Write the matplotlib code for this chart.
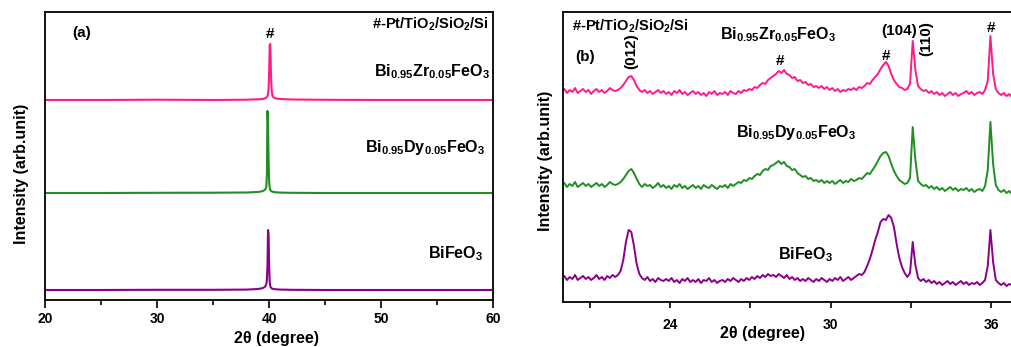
import numpy as np
import matplotlib
matplotlib.use("Agg")
import matplotlib.pyplot as plt

plt.rcParams['font.family'] = ['Liberation Sans', 'DejaVu Sans']
plt.rcParams['font.weight'] = 'bold'
plt.rcParams['mathtext.fontset'] = 'custom'
plt.rcParams['mathtext.rm'] = 'Liberation Sans:bold'
plt.rcParams['mathtext.it'] = 'Liberation Sans:bold'
plt.rcParams['mathtext.bf'] = 'Liberation Sans:bold'

# ---------------- Panel (a) data ----------------
two_theta_a = [20, 25, 30, 35, 38, 39, 39.4, 39.6, 39.7, 39.75, 39.8, 39.85, 39.9,
               39.95, 40.0, 40.05, 40.1, 40.15, 40.2, 40.25, 40.3, 40.4, 40.6, 41,
               42, 45, 50, 55, 60]
bzfo_a = [200, 200, 200.3, 200, 200.3, 200.7, 201, 201.5, 202, 202.5, 203, 204, 206,
          212, 228, 255, 256, 232, 214, 207, 204, 202.5, 201.5, 201, 200.5, 200.2,
          200, 200, 200]
bdfo_a = [107, 107, 107.2, 107.3, 107.5, 108, 108.8, 110, 111.5, 114, 125, 189, 178,
          140, 118, 112, 110, 109.3, 108.8, 108.5, 108.3, 108, 107.7, 107.4, 107.2,
          107, 107, 107, 107]
bfo_a = [10, 10, 10.2, 10.2, 10.4, 11, 11.8, 13, 14.5, 16, 20, 35, 70, 66, 34, 18, 14,
         12.5, 12, 11.5, 11.2, 11, 10.7, 10.4, 10.2, 10, 10, 10, 10]

# ---------------- Panel (b) data ----------------
two_theta_b_start = 19.96
two_theta_b_step = 0.1
bzfo_b = [
    211, 213, 209, 212, 210, 214, 209, 211, 213, 210,
    212, 208, 211, 213, 210, 212, 209, 211, 214, 212,
    211, 212, 214, 217, 221, 225, 226, 222, 216, 212,
    210, 212, 209, 211, 208, 210, 212, 209, 211, 208,
    210, 207, 211, 209, 212, 208, 210, 207, 209, 211,
    208, 210, 207, 209, 206, 210, 208, 211, 207, 209,
    208, 210, 207, 211, 209, 208, 211, 209, 212, 211,
    213, 212, 215, 214, 217, 219, 218, 222, 224, 226,
    228, 231, 229, 232, 228, 227, 224, 225, 221, 222,
    219, 220, 217, 218, 215, 216, 214, 216, 213, 215,
    212, 214, 211, 213, 210, 212, 211, 213, 212, 214,
    212, 215, 214, 216, 219, 218, 222, 225, 228, 233,
    237, 240, 236, 228, 222, 218, 215, 214, 212, 213,
    218, 261, 232, 216, 213, 211, 212, 209, 211, 208,
    210, 207, 209, 206, 208, 210, 207, 209, 206, 208,
    209, 211, 208, 210, 207, 209, 210, 208, 212, 221,
    266, 228, 213, 209, 207, 209, 206, 208, 205, 207,
    206, 208]
bdfo_b = [
    117, 119, 115, 118, 116, 120, 115, 117, 119, 116,
    118, 115, 117, 119, 116, 118, 115, 117, 120, 118,
    117, 118, 120, 123, 127, 131, 133, 129, 123, 118,
    115, 118, 116, 117, 114, 116, 119, 115, 117, 114,
    116, 113, 117, 115, 118, 114, 116, 113, 115, 117,
    114, 116, 113, 117, 115, 114, 117, 115, 113, 116,
    115, 117, 114, 118, 116, 118, 120, 119, 122, 121,
    124, 123, 126, 128, 127, 131, 133, 132, 136, 137,
    139, 141, 138, 140, 136, 135, 132, 133, 129, 127,
    125, 126, 123, 124, 121, 122, 120, 122, 119, 121,
    119, 121, 118, 120, 122, 119, 121, 120, 123, 121,
    122, 124, 123, 126, 129, 128, 132, 136, 141, 146,
    149, 150, 146, 138, 131, 126, 122, 120, 118, 119,
    124, 175, 142, 121, 118, 116, 117, 114, 116, 113,
    115, 112, 114, 111, 113, 115, 112, 114, 111, 113,
    112, 114, 111, 113, 110, 112, 113, 111, 116, 132,
    180, 138, 117, 112, 110, 112, 109, 111, 108, 110,
    109, 111]
bfo_b = [
    24, 26, 22, 25, 23, 27, 22, 24, 26, 23,
    25, 22, 24, 27, 23, 25, 22, 26, 24, 27,
    25, 27, 31, 42, 60, 72, 70, 56, 38, 28,
    24, 22, 25, 21, 23, 20, 24, 22, 21, 23,
    21, 24, 20, 22, 19, 23, 21, 24, 20, 22,
    20, 23, 19, 22, 21, 24, 20, 22, 19, 21,
    22, 20, 23, 21, 24, 22, 20, 23, 21, 24,
    22, 25, 23, 26, 24, 27, 25, 28, 26, 27,
    25, 28, 26, 24, 27, 23, 25, 22, 24, 21,
    23, 21, 24, 22, 20, 23, 21, 24, 22, 20,
    23, 21, 24, 22, 25, 21, 23, 25, 22, 24,
    26, 28, 27, 30, 36, 43, 52, 62, 70, 80,
    83, 82, 87, 84, 75, 58, 44, 35, 29, 25,
    29, 60, 37, 24, 21, 23, 20, 22, 19, 21,
    18, 20, 17, 19, 21, 18, 20, 17, 19, 21,
    18, 20, 17, 19, 18, 20, 17, 19, 22, 36,
    72, 40, 22, 19, 17, 19, 16, 18, 17, 19,
    16, 18]
two_theta_b = np.round(two_theta_b_start + two_theta_b_step * np.arange(len(bfo_b)), 2)

ticks_a = [20, 30, 40, 50, 60]
ticks_b = [21, 24, 27, 30, 33, 36]
ticklabels_b = ['', '24', '', '30', '', '36']

c_pink = '#ff1a8c'
c_green = '#1f8f1f'
c_purple = '#8b008b'

W, H = 1011, 347
fig = plt.figure(figsize=(W / 100, H / 100), dpi=100)

def fx(px):
    return px / W

def fy(py):
    return 1 - py / H

# ---------- Panel (a) ----------
axa = fig.add_axes([fx(45), fy(300), (493.3 - 45) / W, 288 / H])
axa.plot(two_theta_a, bzfo_a, color=c_pink, lw=1.5)
axa.plot(two_theta_a, bdfo_a, color=c_green, lw=1.5)
axa.plot(two_theta_a, bfo_a, color=c_purple, lw=1.5)
axa.set_xlim(20, 60)
axa.set_ylim(0, 288)
axa.set_yticks([])
axa.set_xticks(ticks_a)
axa.set_xticks([25, 35, 45, 55], minor=True)
axa.tick_params(axis='x', which='major', direction='out', length=6, width=1.2,
                labelsize=10, pad=2.5)
axa.tick_params(axis='x', which='minor', direction='out', length=3.5, width=1.2)
for lab in axa.get_xticklabels():
    lab.set_fontweight('bold')
for s in axa.spines.values():
    s.set_linewidth(1.3)

axa.text(23.3, 266.5, '(a)', fontsize=11, fontweight='bold', ha='center', va='center')
axa.text(59.6, 271.7, r'#-Pt/TiO$_2$/SiO$_2$/Si', fontsize=10.5, fontweight='bold',
         ha='right', va='baseline')
axa.text(40.07, 265.5, '#', fontsize=11, fontweight='bold', ha='center', va='center')
axa.text(59.7, 223.3, r'Bi$_{0.95}$Zr$_{0.05}$FeO$_3$', fontsize=11.5, fontweight='bold',
         ha='right', va='baseline')
axa.text(59.25, 148.3, r'Bi$_{0.95}$Dy$_{0.05}$FeO$_3$', fontsize=11.5, fontweight='bold',
         ha='right', va='baseline')
axa.text(59.07, 41.7, r'BiFeO$_3$', fontsize=11.5, fontweight='bold',
         ha='right', va='baseline')

fig.text(fx(276.5), fy(339), '2\u03b8 (degree)', fontsize=11.5, fontweight='bold',
         ha='center', va='center')
fig.text(fx(22), fy(173.5), 'Intensity (arb.unit)', fontsize=11.5, fontweight='bold',
         ha='center', va='center', rotation=90)

# ---------- Panel (b) ----------
axb = fig.add_axes([fx(562.7), fy(302), 17 * 26.8 / W, 290 / H])
axb.plot(two_theta_b, bzfo_b, color=c_pink, lw=1.4)
axb.plot(two_theta_b, bdfo_b, color=c_green, lw=1.4)
axb.plot(two_theta_b, bfo_b, color=c_purple, lw=1.4)
axb.set_xlim(20, 37)
axb.set_ylim(0, 290)
axb.set_yticks([])
axb.set_xticks(ticks_b)
axb.set_xticklabels(ticklabels_b)
axb.tick_params(axis='x', which='major', direction='out', length=4.5, width=1.2,
                labelsize=10, pad=7)
for lab in axb.get_xticklabels():
    lab.set_fontweight('bold')
for s in axb.spines.values():
    s.set_linewidth(1.3)

axb.text(20.34, 271.3, r'#-Pt/TiO$_2$/SiO$_2$/Si', fontsize=10.5, fontweight='bold',
         ha='left', va='baseline')
axb.text(20.46, 245.5, '(b)', fontsize=11, fontweight='bold', ha='left', va='center')
axb.text(22.57, 251, '(012)', fontsize=11, fontweight='bold', ha='center', va='center',
         rotation=90)
axb.text(25.87, 262.7, r'Bi$_{0.95}$Zr$_{0.05}$FeO$_3$', fontsize=11.5, fontweight='bold',
         ha='left', va='baseline')
axb.text(28.1, 241, '#', fontsize=11, fontweight='bold', ha='center', va='center')
axb.text(32.05, 246, '#', fontsize=11, fontweight='bold', ha='center', va='center')
axb.text(31.9, 271.3, '(104)', fontsize=11, fontweight='bold', ha='left', va='center')
axb.text(33.58, 263, '(110)', fontsize=11, fontweight='bold', ha='center', va='center',
         rotation=90)
axb.text(35.98, 274.5, '#', fontsize=11, fontweight='bold', ha='center', va='center')
axb.text(26.47, 165.3, r'Bi$_{0.95}$Dy$_{0.05}$FeO$_3$', fontsize=11.5, fontweight='bold',
         ha='left', va='baseline')
axb.text(28.05, 42.7, r'BiFeO$_3$', fontsize=11.5, fontweight='bold',
         ha='left', va='baseline')

fig.text(fx(762.5), fy(333.3), '2\u03b8 (degree)', fontsize=11.5, fontweight='bold',
         ha='center', va='center')
fig.text(fx(545.5), fy(160.8), 'Intensity (arb.unit)', fontsize=11.5, fontweight='bold',
         ha='center', va='center', rotation=90)

fig.savefig('out.png', dpi=100, facecolor='white')
